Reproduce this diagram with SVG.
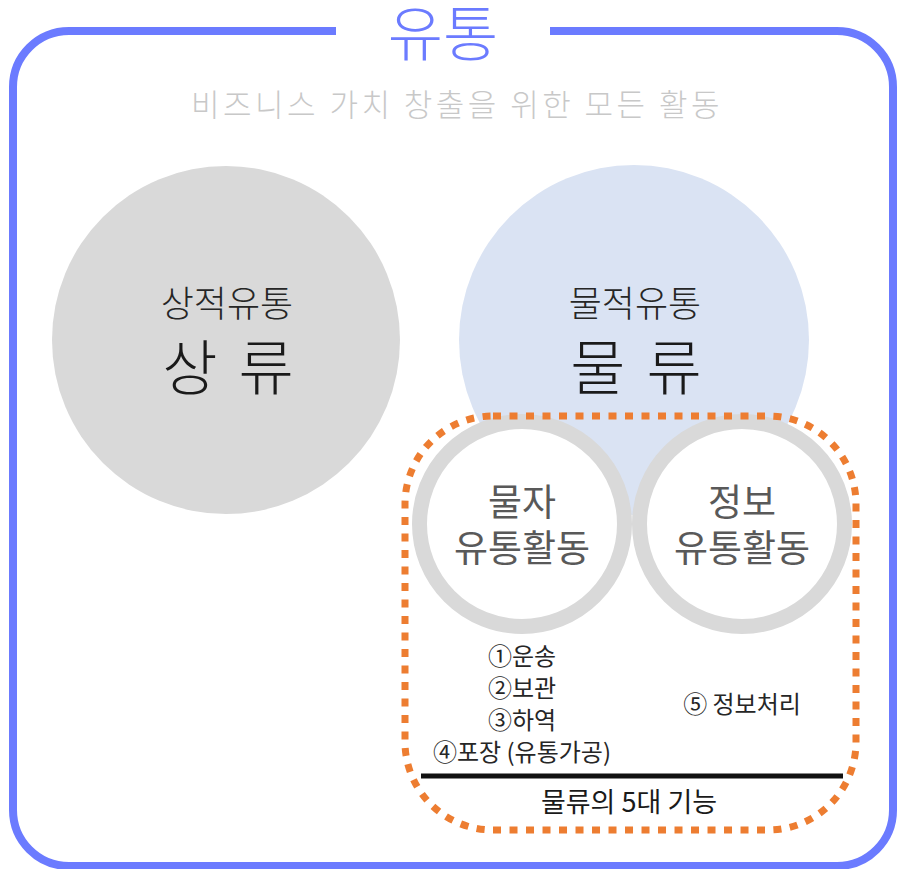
<svg xmlns="http://www.w3.org/2000/svg" width="900" height="869" viewBox="0 0 900 869">
<style>
text{font-family:"Noto Sans CJK KR","Noto Sans",sans-serif;text-anchor:middle}
.big{font-size:60px;fill:#1a1a1a;font-weight:300;letter-spacing:4px}
.mid{font-size:36px;fill:#262626;font-weight:300}
.inner{font-size:37px;fill:#595959}
.item{font-size:24px;fill:#262626}
</style>
<rect width="900" height="869" fill="#ffffff"/>
<g id="frame">
<path d="M336 31 H69 A56 56 0 0 0 13 87 V810 A56 56 0 0 0 69 866 H837 A56 56 0 0 0 893 810 V87 A56 56 0 0 0 837 31 H550" fill="none" stroke="#6b7bff" stroke-width="8"/>
<text x="443" y="56" style="font-size:60px;fill:#6b7bff;font-weight:300">유통</text>
<text x="457" y="116" style="font-size:31px;fill:#c8c8c8;letter-spacing:3.5px;font-weight:300">비즈니스 가치 창출을 위한 모든 활동</text>
</g>
<g id="sangryu">
<circle cx="226" cy="340" r="174" fill="#d9d9d9"/>
<text x="227" y="317" class="mid">상적유통</text>
<text x="230" y="390" class="big">상 류</text>
</g>
<g id="mulryu">
<circle cx="634" cy="340" r="175" fill="#dae3f3"/>
<text x="635" y="317" class="mid">물적유통</text>
<text x="638" y="390" class="big">물 류</text>
</g>
<g id="mulja">
<circle cx="522" cy="524" r="102.5" fill="#ffffff" stroke="#d9d9d9" stroke-width="15"/>
<text x="522" y="516" class="inner">물자</text>
<text x="522" y="562" class="inner">유통활동</text>
</g>
<g id="jeongbo">
<circle cx="742" cy="524" r="102.5" fill="#ffffff" stroke="#d9d9d9" stroke-width="15"/>
<text x="742" y="516" class="inner">정보</text>
<text x="742" y="562" class="inner">유통활동</text>
</g>
<g id="functions">
<rect x="405" y="416" width="451" height="414" rx="88" fill="none" stroke="#ed7d31" stroke-width="7" stroke-dasharray="8 8.5"/>
<text x="522" y="665" class="item">①운송</text>
<text x="522" y="697" class="item">②보관</text>
<text x="522" y="729" class="item">③하역</text>
<text x="522" y="761" class="item">④포장 (유통가공)</text>
<text x="742" y="713" class="item">⑤ 정보처리</text>
<line x1="421" y1="776" x2="843" y2="776" stroke="#111111" stroke-width="5"/>
<text x="629" y="812" style="font-size:27px;fill:#1a1a1a">물류의 5대 기능</text>
</g>
</svg>
